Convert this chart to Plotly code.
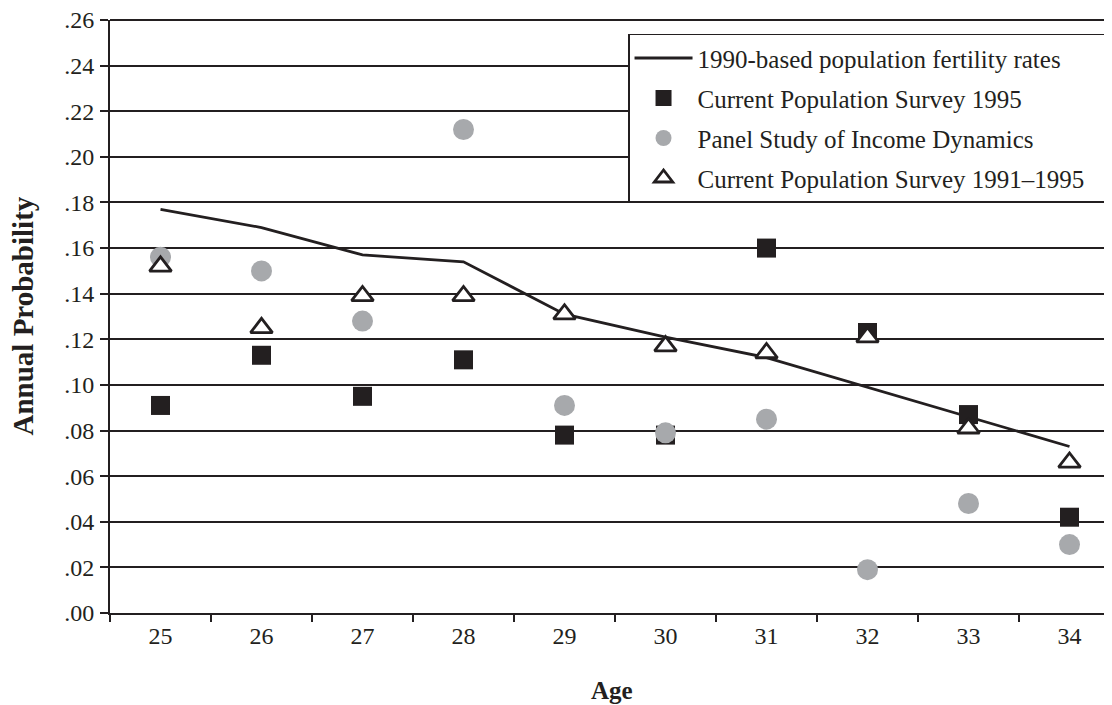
import plotly.graph_objects as go

ages = ["25", "26", "27", "28", "29", "30", "31", "32", "33", "34"]
fertility_1990 = [0.177, 0.169, 0.157, 0.154, 0.131, 0.121, 0.112, 0.099, 0.086, 0.073]
cps_1995 = [0.091, 0.113, 0.095, 0.111, 0.078, 0.078, 0.160, 0.123, 0.087, 0.042]
psid = [0.156, 0.150, 0.128, 0.212, 0.091, 0.079, 0.085, 0.019, 0.048, 0.030]
cps_1991_1995 = [0.152, 0.125, 0.139, 0.139, 0.131, 0.117, 0.114, 0.121, 0.081, 0.066]
y_ticks = [0.00, 0.02, 0.04, 0.06, 0.08, 0.10, 0.12, 0.14, 0.16, 0.18, 0.20, 0.22, 0.24, 0.26]
y_labels = [".00", ".02", ".04", ".06", ".08", ".10", ".12", ".14", ".16", ".18", ".20", ".22", ".24", ".26"]

INK = "#231f20"
GRAY = "#a7a9ac"
FONT = "Liberation Serif"
PAD = "\u00a0" * 4

fig = go.Figure()
fig.add_trace(go.Scatter(x=ages, y=fertility_1990, mode="lines",
                         line=dict(color=INK, width=2.8),
                         name="1990-based population fertility rates", legendgroup="a"))
fig.add_trace(go.Scatter(x=ages, y=cps_1995, mode="markers",
                         marker=dict(symbol="square", size=19, color=INK),
                         name="Current Population Survey 1995", legendgroup="b"))
fig.add_trace(go.Scatter(x=ages, y=psid, mode="markers",
                         marker=dict(symbol="circle", size=21, color=GRAY),
                         name="Panel Study of Income Dynamics", legendgroup="c"))
fig.add_trace(go.Scatter(x=ages, y=cps_1991_1995, mode="markers",
                         marker=dict(symbol="triangle-up", size=19, color="white",
                                     line=dict(color=INK, width=2.8)),
                         name="Current Population Survey 1991\u20131995" + PAD, legendgroup="d"))

fig.update_layout(
    width=1112, height=705,
    margin=dict(l=102, r=0, t=12, b=100, autoexpand=False),
    paper_bgcolor="white", plot_bgcolor="white",
    font=dict(family=FONT, color=INK, size=24),
    showlegend=True,
    legend=dict(x=0.5129, y=0.9768, xanchor="left", yanchor="top",
                bgcolor="white", bordercolor=INK, borderwidth=1.5,
                font=dict(family=FONT, size=25, color=INK),
                itemwidth=58, tracegroupgap=4.5, traceorder="grouped"),
    xaxis=dict(type="category", range=[-0.5, 9.5], tickson="boundaries",
               ticks="outside", ticklen=7, tickwidth=1.5, tickcolor=INK,
               showline=True, linecolor=INK, linewidth=2, showgrid=False,
               zeroline=False, automargin=False,
               tickfont=dict(size=24, family=FONT, color=INK)),
    yaxis=dict(range=[0, 0.26], tickvals=y_ticks, ticktext=y_labels,
               ticks="outside", ticklen=8, tickwidth=1.5, tickcolor=INK,
               showline=True, linecolor=INK, linewidth=2,
               showgrid=True, gridcolor=INK, gridwidth=2, zeroline=False,
               ticklabelstandoff=1, automargin=False, ticklabeloverflow="allow",
               tickfont=dict(size=24, family=FONT, color=INK)),
    shapes=[dict(type="line", xref="paper", yref="paper", x0=0, x1=1, y0=1, y1=1,
                 line=dict(color=INK, width=2), layer="below")],
    annotations=[
        dict(text="<b>Annual Probability</b>", textangle=-90, xref="paper", yref="paper",
             x=(14 - 102) / 1010, y=0.5, xanchor="center", yanchor="middle",
             showarrow=False, font=dict(family=FONT, size=29, color=INK)),
        dict(text="<b>Age</b>", xref="paper", yref="paper",
             x=(604 - 102) / 1010, y=-(682 - 605) / 593, xanchor="center", yanchor="middle",
             showarrow=False, font=dict(family=FONT, size=25, color=INK)),
    ],
)

fig.write_html("out.html")
